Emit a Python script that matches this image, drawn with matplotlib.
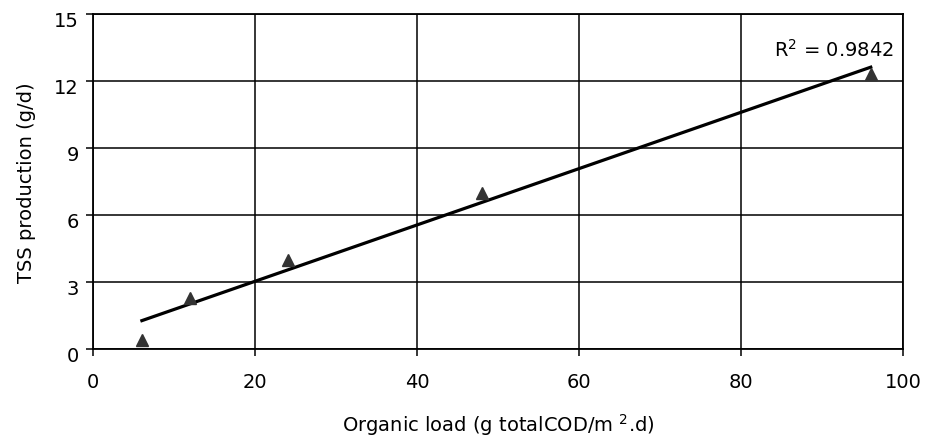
import matplotlib
matplotlib.use('Agg')
import numpy as np
import matplotlib.pyplot as plt
from matplotlib.transforms import ScaledTranslation

# organic load vs TSS production
organic_load = [6, 12, 24, 48, 96]
tss_production = [0.4, 2.3, 4.0, 7.0, 12.3]
r2_label = 'R$^2$ = 0.9842'

plt.rcParams['font.family'] = ['DejaVu Sans']

fig = plt.figure(figsize=(9.33, 4.39), dpi=100)
ax = fig.add_axes([0.1, 0.203, 0.868, 0.763])

# linear trendline
slope, intercept = np.polyfit(organic_load, tss_production, 1)
x_fit = np.array([min(organic_load), max(organic_load)])
ax.plot(x_fit, slope * x_fit + intercept, color='black', linewidth=2.3, zorder=3)

ax.plot(organic_load, tss_production, linestyle='none', marker='^',
        markersize=8.5, color='#333333', zorder=4)

ax.set_xlim(0, 100)
ax.set_ylim(0, 15)
ax.set_xticks(range(0, 101, 20))
ax.set_yticks(range(0, 16, 3))
ax.grid(True, color='black', linewidth=1.1)
ax.set_axisbelow(True)
for sp in ax.spines.values():
    sp.set_linewidth(1.3)
ax.tick_params(axis='both', direction='out', length=5, width=1.1, labelsize=14)
ax.tick_params(axis='y', pad=5.5)
ax.tick_params(axis='x', pad=12)

# y tick labels sit a little below their ticks
shift = ScaledTranslation(0, -3 / 72, fig.dpi_scale_trans)
for lab in ax.get_yticklabels():
    lab.set_transform(lab.get_transform() + shift)

ax.set_xlabel('Organic load (g totalCOD/m $^2$.d)', fontsize=14, labelpad=14)
ax.set_ylabel('TSS production (g/d)', fontsize=14, labelpad=13)

ax.text(0.988, 0.896, r2_label, transform=ax.transAxes, ha='right', va='center',
        fontsize=14)

fig.savefig('out.png', dpi=100)
